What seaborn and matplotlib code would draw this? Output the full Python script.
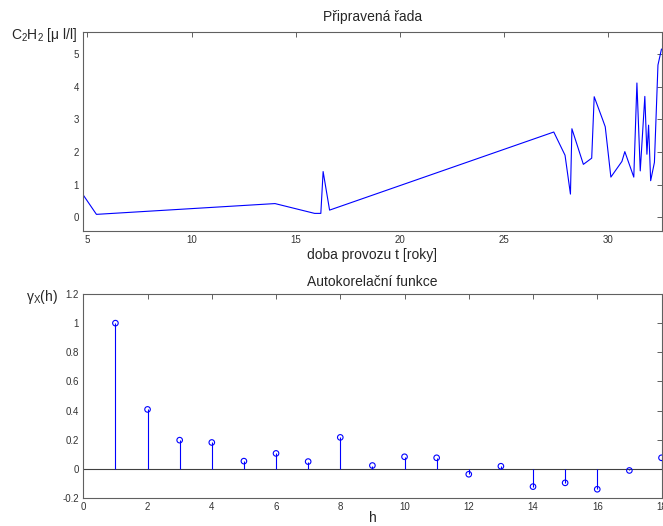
import numpy as np
import pandas as pd
import matplotlib
matplotlib.use("Agg")
import matplotlib.pyplot as plt
import seaborn as sns

# prepared series: operating time [years] vs C2H2 concentration
t_years = [4.80, 5.43, 14.0, 15.9, 16.2, 16.31, 16.62, 27.38, 27.92, 28.18, 28.25,
           28.80, 29.20, 29.32, 29.72, 29.85, 30.12, 30.65, 30.79, 31.22, 31.37,
           31.53, 31.75, 31.85, 31.93, 32.03, 32.21, 32.38, 32.55]
c2h2 = [0.68, 0.09, 0.42, 0.12, 0.12, 1.40, 0.22, 2.61, 1.90, 0.71, 2.71,
        1.62, 1.81, 3.69, 3.00, 2.77, 1.23, 1.71, 2.01, 1.23, 4.11,
        1.42, 3.70, 1.93, 2.82, 1.12, 1.68, 4.66, 5.15]

# autocorrelation
lags = list(range(1, 19))
acf = [1.0, 0.408, 0.197, 0.181, 0.053, 0.106, 0.050, 0.216, 0.023,
       0.083, 0.076, -0.037, 0.018, -0.122, -0.096, -0.140, -0.011, 0.076]

df_top = pd.DataFrame({"t": t_years, "c": c2h2})
df_acf = pd.DataFrame({"h": lags, "r": acf})

sns.set_theme(style="white")
plt.rcParams["font.family"] = ["Liberation Sans", "DejaVu Sans"]
plt.rcParams["mathtext.fontset"] = "custom"
plt.rcParams["mathtext.rm"] = "Liberation Sans"
plt.rcParams["mathtext.it"] = "Liberation Sans:italic"

W, H = 663, 526
fig = plt.figure(figsize=(W / 100, H / 100), dpi=100)
ax1 = fig.add_axes([83.3 / W, 1 - 230.7 / H, 578.2 / W, 199 / H])
ax2 = fig.add_axes([83.3 / W, 1 - 498 / H, 578.2 / W, 204 / H])

frame_col = "#606060"
for ax in (ax1, ax2):
    for s in ax.spines.values():
        s.set_color(frame_col)
        s.set_linewidth(0.8)
    ax.tick_params(direction="in", top=True, right=True, length=3.5, width=0.7,
                   color=frame_col, labelcolor="#333333", labelsize=7, pad=3)

# top: prepared series
sns.lineplot(data=df_top, x="t", y="c", ax=ax1, color="blue", lw=0.8,
             estimator=None, sort=False)
ax1.set_xlim(4.8, 32.55)
ax1.set_ylim(-0.41, 5.68)
ax1.set_xticks([5, 10, 15, 20, 25, 30])
ax1.set_yticks([0, 1, 2, 3, 4, 5])
ax1.set_title("Připravená řada", fontsize=10, pad=8)
ax1.set_xlabel("doba provozu t [roky]", fontsize=10, labelpad=2)
ax1.set_ylabel(r"$\mathregular{C_2H_2}$ [μ l/l]", fontsize=10, rotation=0,
               ha="right", va="center")
ax1.yaxis.set_label_coords(-0.011, 0.983)

# bottom: autocorrelation function (stem)
ax2.axhline(0, color="#404040", lw=0.8, zorder=1)
ax2.vlines(df_acf["h"], 0, df_acf["r"], color="blue", lw=0.8, zorder=2)
sns.scatterplot(data=df_acf, x="h", y="r", ax=ax2, marker="o", s=16,
                facecolor="none", edgecolor="blue", linewidth=0.8, zorder=3)
ax2.set_xlim(0, 18)
ax2.set_ylim(-0.2, 1.2)
ax2.set_xticks(range(0, 19, 2))
ax2.set_yticks([-0.2, 0, 0.2, 0.4, 0.6, 0.8, 1, 1.2])
ax2.set_yticklabels(["-0.2", "0", "0.2", "0.4", "0.6", "0.8", "1", "1.2"])
ax2.set_title("Autokorelační funkce", fontsize=10, pad=6)
ax2.set_xlabel("h", fontsize=10, labelpad=-1)
ax2.set_ylabel(r"γ$_\mathregular{X}$(h)", fontsize=10, rotation=0,
               ha="right", va="center")
ax2.yaxis.set_label_coords(-0.044, 0.985)

fig.savefig("out.png", dpi=100)
